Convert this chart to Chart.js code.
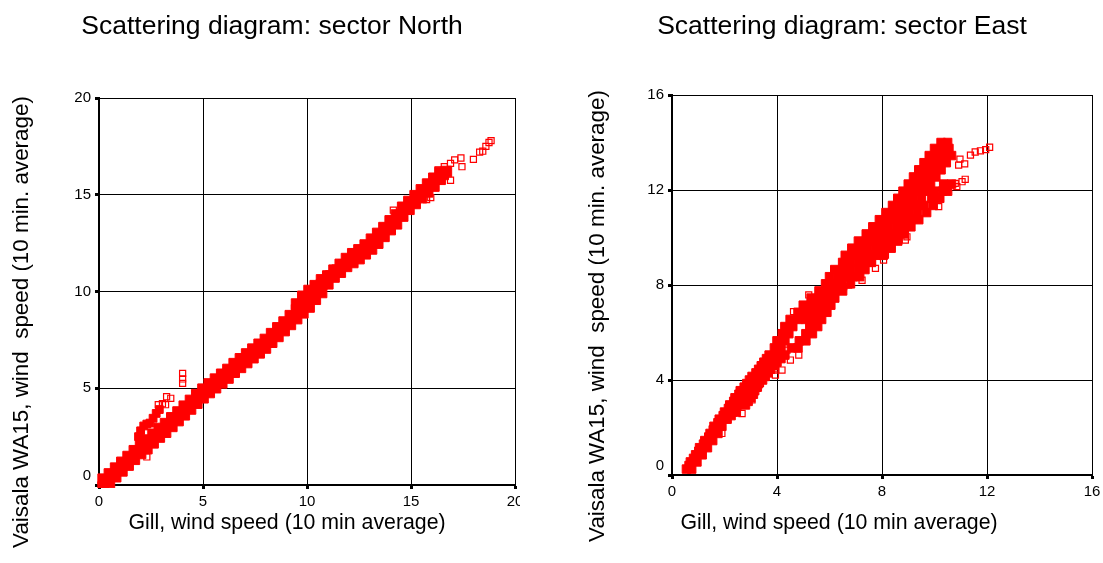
<!DOCTYPE html>
<html><head><meta charset="utf-8">
<script src="https://cdn.jsdelivr.net/npm/chart.js@4.4.0/dist/chart.umd.min.js"></script>
<style>
html,body{margin:0;padding:0;background:#fff;width:1103px;height:563px;overflow:hidden}
#c1{position:absolute;left:0;top:0}
#c2{position:absolute;left:560px;top:0}
</style></head><body>
<canvas id="c1" width="520" height="563"></canvas>
<canvas id="c2" width="543" height="563"></canvas>
<script>
// ---- texts ----
const northTitle = "Scattering diagram: sector North";
const eastTitle = "Scattering diagram: sector East";
const xAxisTitle = "Gill, wind speed (10 min average)";
const yAxisTitle = "Vaisala WA15, wind  speed (10 min. average)";

// ---- axis ticks ----
const northTicks = [0, 5, 10, 15, 20];
const eastTicks = [0, 4, 8, 12, 16];

// ---- sector North: [Gill, Vaisala] (m/s) ----
const northCore = [
[0.2,-0.1],[0.2,0.3],[0.5,0.13],[0.5,0.57],[0.8,0.43],[0.8,0.87],[1.1,0.73],[1.1,1.17],
[1.4,1.03],[1.4,1.47],[1.7,1.33],[1.7,1.77],[2.0,1.63],[2.0,2.07],[2.3,1.88],[2.3,2.32],
[2.6,2.18],[2.6,2.62],[2.9,2.48],[2.9,2.92],[3.2,2.73],[3.2,3.17],[3.5,3.03],[3.5,3.47],
[3.8,3.33],[3.8,3.77],[4.1,3.63],[4.1,4.07],[4.4,3.93],[4.4,4.37],[4.7,4.23],[4.7,4.67],
[5.0,4.51],[5.0,4.95],[5.3,4.78],[5.3,5.22],[5.6,5.03],[5.6,5.47],[5.9,5.28],[5.9,5.72],
[6.2,5.53],[6.2,5.97],[6.5,5.83],[6.5,6.27],[6.8,6.08],[6.8,6.52],[7.1,6.33],[7.1,6.77],
[7.4,6.58],[7.4,7.02],[7.7,6.83],[7.7,7.27],[8.0,7.08],[8.0,7.52],[8.3,7.38],[8.3,7.82],
[8.6,7.68],[8.6,8.12],[8.9,7.98],[8.9,8.42],[9.2,8.3],[9.2,8.75],
[9.5,8.6],[9.5,9.05],[9.5,9.35],[9.8,8.9],[9.8,9.35],[9.8,9.75],[10.1,9.2],[10.1,9.65],[10.1,10.05],
[10.4,9.6],[10.4,10.0],[10.4,10.3],[10.7,9.95],[10.7,10.35],[10.7,10.6],
[11.0,10.4],[11.0,10.8],[11.3,10.75],[11.3,11.1],[11.6,11.0],[11.6,11.4],[11.9,11.3],[11.9,11.7],
[12.2,11.5],[12.2,11.95],[12.5,11.7],[12.5,12.15],[12.8,11.95],[12.8,12.4],[13.1,12.2],[13.1,12.7],
[13.4,12.5],[13.4,13.0],[13.7,12.85],[13.7,13.3],[14.0,13.2],[14.0,13.65],[14.3,13.5],[14.3,13.95],
[14.6,13.9],[14.6,14.35],[14.9,14.25],[14.9,14.65],[15.2,14.55],[15.2,14.95],[15.5,14.85],[15.5,15.25],
[15.8,15.15],[15.8,15.55],[16.1,15.45],[16.1,15.85],[16.4,15.8],[16.4,16.15],[16.7,16.2],
[0.35,0.22],[0.65,0.5],[0.95,0.8],[1.25,1.1],[1.55,1.4],[1.85,1.7],[2.15,1.98],[2.45,2.25],
[2.75,2.55],[3.05,2.83],[3.35,3.1],[3.65,3.4],[3.95,3.7],[4.25,4.0],[4.55,4.3],[4.85,4.59],
[5.15,4.87],[5.45,5.12],[5.75,5.38],[6.05,5.62],[6.35,5.9],[6.65,6.18],[6.95,6.43],[7.25,6.68],
[7.55,6.93],[7.85,7.18],[8.15,7.45],[8.45,7.75],[8.75,8.05],[9.05,8.35],[9.35,8.7],[9.65,9.05],
[9.95,9.45],[10.25,9.8],[10.55,10.15],[10.85,10.5],[11.15,10.8],[11.45,11.1],[11.75,11.38],[12.05,11.63],
[12.35,11.85],[12.65,12.08],[12.95,12.32],[13.25,12.6],[13.55,12.92],[13.85,13.25],[14.15,13.58],[14.45,13.93],
[14.75,14.28],[15.05,14.6],[15.35,14.9],[15.65,15.2],[15.95,15.5],[16.25,15.82],[16.55,16.05]
];
const northBranch = [
[1.9,2.5],[2.0,2.8],[2.15,3.05],[2.3,3.15],[2.45,3.2],[2.6,3.45],[2.75,3.7],[2.9,3.9]
];
const northSpread = [
[2.85,4.15],[3.05,4.2],[3.2,4.15],[3.25,4.56],[3.45,4.48],[4.02,5.25],[4.02,5.48],[4.02,5.77],[2.3,1.45],
[14.15,14.2],[15.75,14.75],[15.95,14.85],[16.3,16.28],[16.6,16.45],[16.9,16.62],[17.1,16.8],[17.4,16.9],
[17.45,16.45],[16.9,15.75],[18.0,16.83],[18.3,17.2],[18.45,17.25],[18.6,17.5],[18.75,17.7],[18.85,17.8]
];

// ---- sector East: [Gill, Vaisala] (m/s) ----
const eastCore = [
[0.55,0.25],[0.75,0.25],[0.7,0.55],[0.95,0.55],[0.9,0.85],[1.15,0.85],[1.05,1.15],[1.35,1.15],
[1.25,1.45],[1.55,1.45],[1.45,1.75],[1.75,1.75],[1.6,2.05],[1.9,2.05],[1.8,2.35],[2.1,2.35],
[2.0,2.65],[2.3,2.65],[2.45,2.65],[2.2,2.95],[2.5,2.95],[2.8,2.95],[2.4,3.25],[2.7,3.25],[3.0,3.25],
[2.6,3.55],[2.9,3.55],[3.15,3.55],[2.85,3.85],[3.1,3.85],[3.3,3.85],[3.05,4.15],[3.35,4.15],[3.55,4.15],
[3.3,4.45],[3.6,4.45],[3.75,4.45],[3.5,4.75],[3.8,4.75],[4.0,4.75],[3.7,5.05],[4.0,5.05],[4.3,5.05],
[0.65,0.4],[0.82,0.7],[1.02,1.0],[1.2,1.3],[1.4,1.6],[1.57,1.9],[1.75,2.2],[1.95,2.5],[2.25,2.5],
[2.15,2.8],[2.45,2.8],[2.35,3.1],[2.65,3.1],[2.9,3.1],[2.55,3.4],[2.85,3.4],[3.1,3.4],
[2.75,3.7],[3.0,3.7],[3.25,3.7],[2.95,4.0],[3.25,4.0],[3.45,4.0],[3.2,4.3],[3.5,4.3],[3.65,4.3],
[3.4,4.6],[3.7,4.6],[3.9,4.6],[3.6,4.9],[3.9,4.9],[4.15,4.9],
[3.9,5.35],[4.15,5.35],[4.55,5.35],[4.8,5.35],[4.0,5.65],[4.3,5.65],[4.85,5.65],[5.1,5.65],
[4.2,5.95],[4.45,5.95],[5.1,5.95],[5.35,5.95],[4.3,6.25],[4.6,6.25],[5.25,6.25],[5.55,6.25],
[4.5,6.55],[4.8,6.55],[5.1,6.55],[5.4,6.55],[5.7,6.55],[4.8,6.85],[5.1,6.85],[5.4,6.85],[5.7,6.85],[5.9,6.85],
[5.0,7.15],[5.3,7.15],[5.6,7.15],[5.85,7.15],[6.05,7.15],[5.3,7.45],[5.6,7.45],[5.9,7.45],[6.2,7.45],
[5.6,7.75],[5.9,7.75],[6.2,7.75],[6.5,7.75],[5.85,8.05],[6.15,8.05],[6.45,8.05],[6.8,8.05],
[6.0,8.35],[6.3,8.35],[6.6,8.35],[6.9,8.35],[7.15,8.35],[6.2,8.65],[6.5,8.65],[6.8,8.65],[7.1,8.65],[7.35,8.65],
[6.5,8.95],[6.8,8.95],[7.1,8.95],[7.35,8.95],[7.6,8.95],
[6.6,9.25],[6.9,9.25],[7.2,9.25],[7.5,9.25],[7.8,9.25],[8.05,9.25],
[6.85,9.55],[7.15,9.55],[7.45,9.55],[7.75,9.55],[8.05,9.55],[8.35,9.55],
[7.1,9.85],[7.4,9.85],[7.7,9.85],[8.0,9.85],[8.3,9.85],[8.6,9.85],
[7.4,10.15],[7.7,10.15],[8.0,10.15],[8.3,10.15],[8.6,10.15],[8.85,10.15],
[7.65,10.45],[7.95,10.45],[8.25,10.45],[8.55,10.45],[8.85,10.45],[9.1,10.45],
[7.9,10.75],[8.2,10.75],[8.5,10.75],[8.8,10.75],[9.1,10.75],[9.4,10.75],
[8.15,11.05],[8.45,11.05],[8.75,11.05],[9.05,11.05],[9.35,11.05],[9.7,11.05],
[8.4,11.35],[8.7,11.35],[9.0,11.35],[9.3,11.35],[9.6,11.35],[9.95,11.35],
[8.6,11.65],[8.9,11.65],[9.2,11.65],[9.5,11.65],[9.9,11.65],[10.2,11.65],
[8.8,11.95],[9.1,11.95],[9.4,11.95],[9.7,11.95],[10.0,11.95],[10.3,11.95],[10.5,11.95],
[9.0,12.25],[9.3,12.25],[9.6,12.25],[9.85,12.25],[10.35,12.25],[10.65,12.25],
[9.2,12.55],[9.5,12.55],[9.8,12.55],[10.05,12.55],[9.4,12.85],[9.7,12.85],[10.0,12.85],[10.25,12.85],
[9.6,13.15],[9.9,13.15],[10.2,13.15],[10.45,13.15],[9.8,13.45],[10.1,13.45],[10.4,13.45],[10.65,13.45],
[10.0,13.75],[10.3,13.75],[10.55,13.75],[10.25,14.0],[10.5,14.0]
];
const eastBranch = [];
const eastSpread = [
[1.9,1.75],[2.67,2.59],[3.05,3.16],[3.24,3.65],[3.37,3.86],
[3.94,4.21],[3.94,4.42],[4.19,4.42],[4.51,4.84],[4.83,5.05],[4.38,5.26],
[4.57,6.45],[4.63,6.88],[5.21,7.58],
[6.54,7.93],[6.73,8.0],[7.24,8.2],[7.11,8.77],[7.62,8.91],[7.75,8.7],[8.06,9.05],[8.13,9.26],[8.89,9.89],[8.95,10.03],
[10.16,11.3],[10.79,12.28],[11.05,12.35],[11.17,12.45],[10.85,12.14],
[10.92,13.05],[10.97,13.3],[11.15,13.1],[11.37,13.47],[11.55,13.6],[11.75,13.65],[11.95,13.7],[12.1,13.8]
];

// ---- rendering ----
const RED = '#ff0000';
const FONT = '"Liberation Sans", Arial, Helvetica, sans-serif';
const toPts = arr => arr.map(p => ({x: p[0], y: p[1]}));

const textPlugin = {
  id: 'sideTexts',
  afterDraw(chart, args, o) {
    const ctx = chart.ctx;
    ctx.save();
    ctx.fillStyle = '#000';
    ctx.textAlign = 'center';
    ctx.textBaseline = 'middle';
    ctx.font = o.titleSize + 'px ' + FONT;
    ctx.fillText(o.title, o.titleX, o.titleY);
    ctx.font = o.xSize + 'px ' + FONT;
    ctx.fillText(o.xTitle, o.xTitleX, o.xTitleY);
    ctx.font = o.ySize + 'px ' + FONT;
    ctx.translate(o.yTitleX, o.yTitleY);
    ctx.rotate(-Math.PI / 2);
    ctx.fillText(o.yTitle, 0, 0);
    ctx.restore();
  }
};

function axis(ticksArr, pos, size) {
  return {
    type: 'linear', position: pos, z: 1,
    min: ticksArr[0], max: ticksArr[ticksArr.length - 1],
    afterBuildTicks(s) { s.ticks = ticksArr.map(v => ({value: v})); },
    ticks: {
      color: '#000', font: {family: FONT, size: 15}, padding: 4, maxRotation: 0, autoSkip: false,
      callback: v => (pos === 'left' && v === ticksArr[0]) ? [String(v), ''] : String(v)
    },
    grid: {color: '#000', lineWidth: 1, drawTicks: true, tickLength: 4, tickWidth: 3, tickColor: '#000'},
    border: {display: true, color: '#000', width: 2},
    afterFit(s) {
      if (pos === 'bottom') s.height = size; else s.width = size;
      s.paddingLeft = 0; s.paddingRight = 0; s.paddingTop = 0; s.paddingBottom = 0;
    }
  };
}

function makeChart(id, core, branch, spread, ticksArr, coreR, pad, texts) {
  return new Chart(document.getElementById(id), {
    type: 'scatter',
    data: {
      datasets: [
        {data: toPts(core), pointStyle: 'rect', pointRadius: coreR, backgroundColor: RED, borderColor: RED, borderWidth: 1, clip: 3},
        {data: toPts(branch), pointStyle: 'rect', pointRadius: 5.5, backgroundColor: RED, borderColor: RED, borderWidth: 1, clip: 3},
        {data: toPts(spread), pointStyle: 'rect', pointRadius: 4.3, backgroundColor: 'rgba(255,255,255,0)', borderColor: RED, borderWidth: 1.2, clip: 3}
      ]
    },
    options: {
      responsive: false, animation: false, events: [],
      devicePixelRatio: 1,
      layout: {padding: pad, autoPadding: false},
      plugins: {legend: {display: false}, tooltip: {enabled: false}, title: {display: false}, sideTexts: texts},
      scales: {x: axis(ticksArr, 'bottom', 40), y: axis(ticksArr, 'left', 60)}
    },
    plugins: [textPlugin]
  });
}

makeChart('c1', northCore, northBranch, northSpread, northTicks, 7.5,
  {left: 39, top: 98, right: 5, bottom: 38},
  {title: northTitle, titleSize: 26.5, titleX: 272, titleY: 27,
   xTitle: xAxisTitle, xSize: 21.3, xTitleX: 287, xTitleY: 523,
   yTitle: yAxisTitle, ySize: 22.4, yTitleX: 22, yTitleY: 322});

makeChart('c2', eastCore, eastBranch, eastSpread, eastTicks, 6,
  {left: 52, top: 95, right: 11, bottom: 48},
  {title: eastTitle, titleSize: 26.5, titleX: 282, titleY: 27,
   xTitle: xAxisTitle, xSize: 21.3, xTitleX: 279, xTitleY: 523,
   yTitle: yAxisTitle, ySize: 22.4, yTitleX: 38, yTitleY: 316});
</script>
</body></html>
